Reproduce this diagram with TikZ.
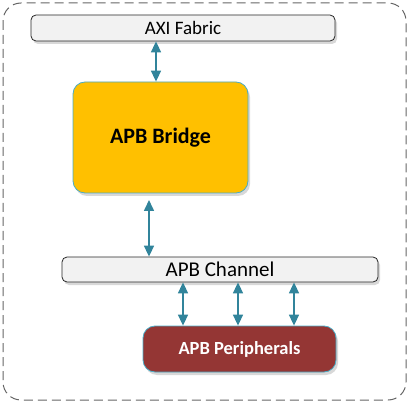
\documentclass[tikz,border=0pt]{standalone}
\usepackage{fontspec}
\setmainfont{Carlito}
\usetikzlibrary{arrows.meta,shadows}
\definecolor{teal1}{HTML}{31849B}
\definecolor{bordercol}{HTML}{4BACC6}
\definecolor{barfill}{HTML}{F2F2F2}
\definecolor{bridgefill}{HTML}{FFC000}
\definecolor{perifill}{HTML}{943634}
\tikzset{
  bar/.style={draw=black!85, line width=0.8pt, fill=barfill, rounded corners=5pt,
    drop shadow={shadow xshift=2pt, shadow yshift=-3pt, fill=black!30}},
  block/.style={draw=bordercol, line width=0.8pt, rounded corners=12pt,
    drop shadow={shadow xshift=2pt, shadow yshift=-3pt, fill=black!30}},
  link/.style={teal1, line width=1.6pt, {Triangle[width=10pt,length=11pt]}-{Triangle[width=10pt,length=11pt]}},
}
\begin{document}
\begin{tikzpicture}[x=1pt,y=-1pt]
\useasboundingbox (0,0) rectangle (409,403);
\draw[black!60, line width=1pt, dash pattern=on 9pt off 5pt, rounded corners=18pt] (3,3) rectangle (406,400);
\node[bar, minimum width=304pt, minimum height=26pt, font=\fontsize{19}{22}\selectfont] (axi) at (183,28) {AXI Fabric};
\node[block, fill=bridgefill, minimum width=175pt, minimum height=111pt, font=\bfseries\fontsize{22}{26}\selectfont] (bridge) at (160.5,137.5) {APB Bridge};
\node[bar, minimum width=316pt, minimum height=25pt, font=\fontsize{21}{24}\selectfont] (chan) at (220,269.5) {APB Channel};
\node[block, fill=perifill, text=white, minimum width=193pt, minimum height=46pt, font=\bfseries\fontsize{18.5}{22}\selectfont] (peri) at (239.5,349) {APB Peripherals};
\draw[link] (axi.south -| 156,0) -- (bridge.north -| 156,0);
\coordinate (b2) at (149,200);
\draw[link] (b2) -- (chan.north -| 149,0);
\foreach \x in {183,238,294} {
  \draw[link] (chan.south -| \x,0) -- (peri.north -| \x,0);
}
\end{tikzpicture}
\end{document}
